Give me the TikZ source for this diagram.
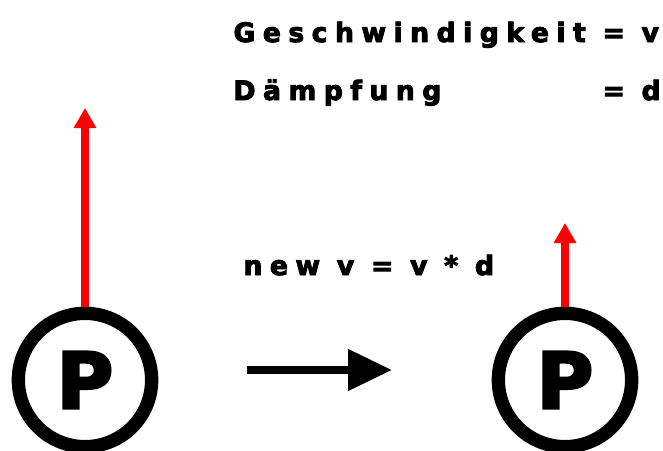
\documentclass[tikz,border=0pt]{standalone}
\usepackage{fontspec}
\usetikzlibrary{arrows.meta}

\newfontfamily\heavyfont{DejaVu Sans Bold}[FakeBold=3.5,LetterSpace=28]
\newfontfamily\pfont{DejaVu Sans Bold}[FakeBold=3.5]

\tikzset{every picture/.style={line width=0.75pt}}
\tikzset{
  particle/.style={circle, draw=black, line width=10pt, minimum size=100pt, inner sep=0pt, font=\pfont\fontsize{58}{58}\selectfont},
  velocity/.style={draw=red, line width=5.5pt, -{Triangle[length=15pt,width=16pt]}},
  formula/.style={anchor=base west, inner sep=0pt, font=\heavyfont\fontsize{20}{20}\selectfont}
}

\begin{document}
\begin{tikzpicture}[x=0.75pt,y=0.75pt,yscale=-1,xscale=1]
\useasboundingbox (0,0) rectangle (663,450);

% definitions
\node [formula] (speed) at (233,42) {Geschwindigkeit = v};
\node [formula] (damp) at (233,100) {Dämpfung};
\node [formula] (dval) at (602,100) {= d};

% update rule
\node [formula] (rule) at (243,275) {new v = v * d};

% particle before
\node [particle] (P1) at (85,380) {P};
\coordinate (v1) at (85,108);
\draw [velocity] (P1.north) -- (v1);

% step arrow
\coordinate (s1) at (247,370);
\coordinate (s2) at (392,370);
\draw [line width=6pt, -{Triangle[length=33pt,width=30pt]}] (s1) -- (s2);

% particle after
\node [particle] (P2) at (565,380) {P};
\coordinate (v2) at (565,223);
\draw [velocity] (P2.north) -- (v2);
\end{tikzpicture}
\end{document}
